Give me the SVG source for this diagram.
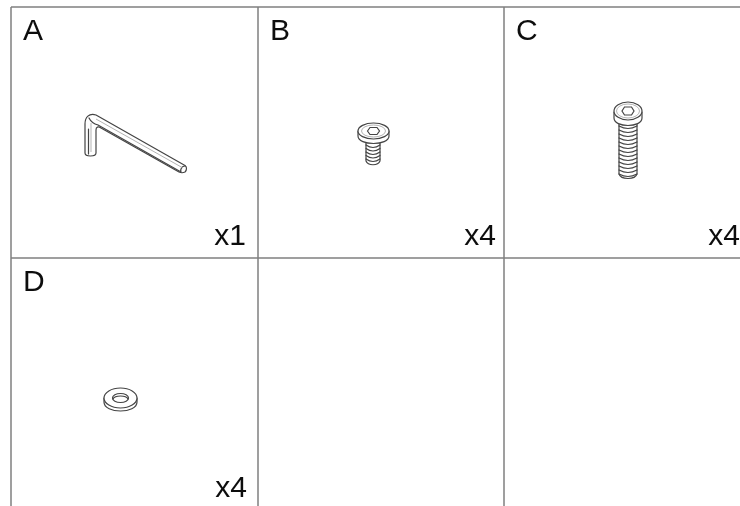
<svg xmlns="http://www.w3.org/2000/svg" width="740" height="506" viewBox="0 0 740 506">
<defs><filter id="soft" x="-5%" y="-5%" width="110%" height="110%"><feGaussianBlur stdDeviation="0.45"/></filter></defs>
<style>
.grid{stroke:#808080;stroke-width:1.5;fill:none}
.lab{font-family:"Liberation Sans",Arial,sans-serif;font-size:30px;fill:#111}
.qty{font-family:"Liberation Sans",Arial,sans-serif;font-size:30px;fill:#111;text-anchor:end}
.p{fill:#fff;stroke:#444;stroke-width:1.2;stroke-linejoin:round;stroke-linecap:round}
.t{fill:none;stroke:#444;stroke-width:1.2;stroke-linecap:round}
.l{fill:none;stroke:#aaa;stroke-width:.9}
.s{filter:url(#soft)}
</style>
<rect width="740" height="506" fill="#fff"/>
<g id="grid" class="grid s">
<path d="M11 7H740M11 258H740M11 7V506M258 7V506M504 7V506"/>
</g>
<g id="cell-a" class="s">
<text class="lab" x="23" y="40">A</text>
<text class="qty" x="246" y="245">x1</text>
<path class="p" d="M85 153V124C85 117 89 113 96 115L185 165.500C187 167 187 170 185 172C183 173 181 173 179 172L101 128C98 126 96 127 96 130V153C96 157 85 157 85 153Z"/>
<path class="t" d="M89 118C91 122 94 124 98 125M98 125L181 172M88.500 129V154M181 172C180 169 182 166 185 166"/>
<path class="l" d="M96 119L183 168M91 123V152"/>
</g>
<g id="cell-b" class="s">
<text class="lab" x="270" y="40">B</text>
<text class="qty" x="496" y="245">x4</text>
<path class="p" d="M366 142H380V161C378 166 368 166 366 161Z"/>
<path class="t" d="M366 145Q373 150 380 145M366 148.500Q373 153.500 380 148.500M366 152Q373 157 380 152M366 155.500Q373 160.500 380 155.500M366 159Q373 164 380 159"/>
<path class="p" d="M358 131V136C358 146 389 146 389 136V131Z"/>
<ellipse class="p" cx="373.500" cy="131" rx="15.500" ry="8"/>
<ellipse class="l" cx="373.500" cy="131" rx="12" ry="6"/>
<path class="t" d="M367.500 131L370 127.500H377L379.500 131L377 134.500H370Z"/>
</g>
<g id="cell-c" class="s">
<text class="lab" x="516" y="40">C</text>
<text class="qty" x="740" y="245">x4</text>
<path class="p" d="M619 122H637V174C635 180 621 180 619 174Z"/>
<path class="t" d="M619 126Q628 131 637 126M619 130Q628 135 637 130M619 134Q628 139 637 134M619 138Q628 143 637 138M619 142Q628 147 637 142M619 146Q628 151 637 146M619 150Q628 155 637 150M619 154Q628 159 637 154M619 158Q628 163 637 158M619 162Q628 167 637 162M619 166Q628 171 637 166M619 170Q628 175 637 170M619 174Q628 179 637 174"/>
<path class="p" d="M614 112V118C614 128 642 128 642 118V112Z"/>
<ellipse class="p" cx="628" cy="111" rx="14" ry="9"/>
<ellipse class="l" cx="628" cy="111" rx="11.500" ry="7"/>
<path class="t" d="M622 111L624.500 107H631.500L634 111L631.500 115H624.500Z"/>
</g>
<g id="cell-d" class="s">
<text class="lab" x="23" y="291">D</text>
<text class="qty" x="247" y="497">x4</text>
<path class="p" d="M104 398V402C104 414 137 414 137 402V398Z"/>
<ellipse class="p" cx="120.500" cy="398" rx="16.500" ry="10"/>
<ellipse class="t" cx="120.500" cy="398" rx="8" ry="4.500"/>
<path class="t" d="M113 399C115 395 126 395 128 399"/>
</g>
</svg>
